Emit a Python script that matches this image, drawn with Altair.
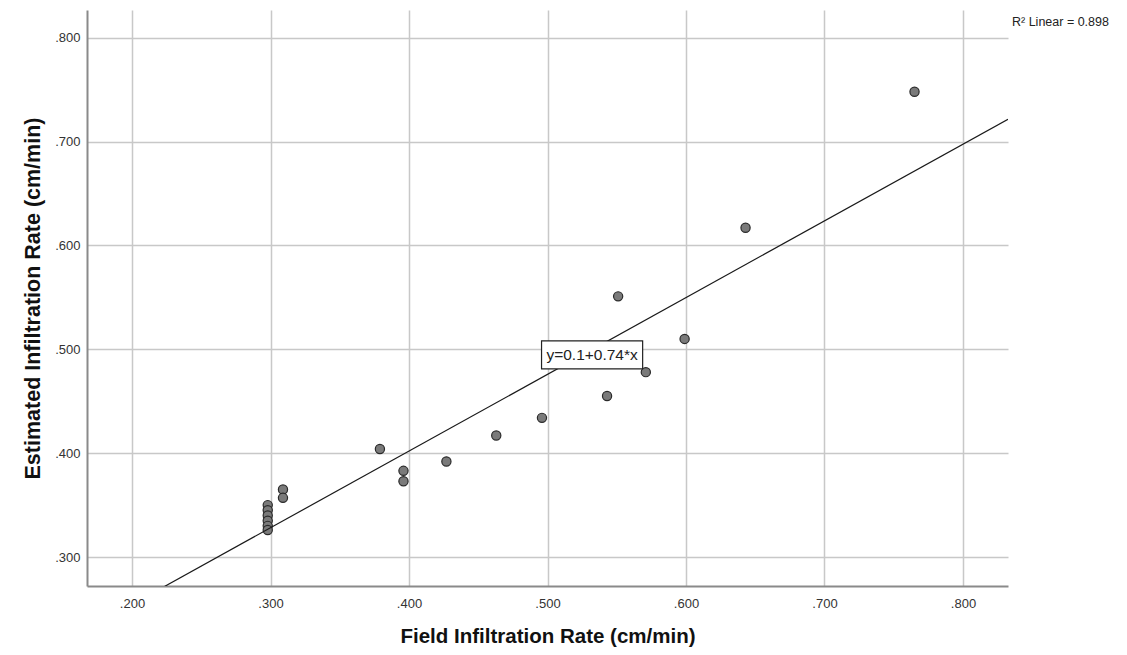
import altair as alt
import pandas as pd

field_rate = [0.765, 0.643, 0.551, 0.599, 0.571, 0.543, 0.496, 0.463, 0.427, 0.379,
              0.396, 0.396, 0.309, 0.309, 0.298, 0.298, 0.298, 0.298, 0.298, 0.298]
estimated_rate = [0.748, 0.617, 0.551, 0.510, 0.478, 0.455, 0.434, 0.417, 0.392, 0.404,
                  0.383, 0.373, 0.365, 0.357, 0.350, 0.345, 0.340, 0.335, 0.330, 0.326]

x_ticks = [0.2, 0.3, 0.4, 0.5, 0.6, 0.7, 0.8]
y_ticks = [0.3, 0.4, 0.5, 0.6, 0.7, 0.8]
x_domain = [0.1675, 0.8325]
y_domain = [0.2721, 0.8267]

equation_text = ["y=0.1+0.74*x"]
equation_box_x = [0.4957, 0.5687]
equation_box_y = [0.4811, 0.5081]
r2_text = ["R\u00b2 Linear = 0.898"]

df = pd.DataFrame({"field": field_rate, "est": estimated_rate})

xscale = alt.Scale(domain=x_domain, nice=False, zero=False)
yscale = alt.Scale(domain=y_domain, nice=False, zero=False)

lab_expr = "slice(format(datum.value, '.3f'), 1)"

x_axis = alt.Axis(values=x_ticks, labelExpr=lab_expr, title="Field Infiltration Rate (cm/min)",
                  grid=True, ticks=False, labelPadding=11, titlePadding=16, titleFontSize=20.5)
y_axis = alt.Axis(values=y_ticks, labelExpr=lab_expr, title="Estimated Infiltration Rate (cm/min)",
                  grid=True, ticks=False, labelPadding=7, titlePadding=10, titleFontSize=21.5)

base = alt.Chart(df)

points = base.mark_circle(size=85, color="#7a7a7a", stroke="#2a2a2a", strokeWidth=1.2, opacity=1).encode(
    x=alt.X("field:Q", scale=xscale, axis=x_axis),
    y=alt.Y("est:Q", scale=yscale, axis=y_axis),
)

reg = base.transform_regression("field", "est", extent=x_domain).mark_line(
    color="#1a1a1a", strokeWidth=1.2, clip=True
).encode(
    x=alt.X("field:Q", scale=xscale),
    y=alt.Y("est:Q", scale=yscale),
)

box_df = pd.DataFrame({"x1": [equation_box_x[0]], "x2": [equation_box_x[1]],
                       "y1": [equation_box_y[0]], "y2": [equation_box_y[1]],
                       "label": equation_text,
                       "xm": [(equation_box_x[0] + equation_box_x[1]) / 2],
                       "ym": [(equation_box_y[0] + equation_box_y[1]) / 2]})

box = alt.Chart(box_df).mark_rect(fill="white", stroke="#222222", strokeWidth=1.2).encode(
    x=alt.X("x1:Q", scale=xscale), x2="x2:Q",
    y=alt.Y("y1:Q", scale=yscale), y2="y2:Q",
)
box_text = alt.Chart(box_df).mark_text(font="Liberation Sans", fontSize=15.5, color="#222222",
                                        align="center", baseline="middle").encode(
    x=alt.X("xm:Q", scale=xscale), y=alt.Y("ym:Q", scale=yscale), text="label:N"
)

r2 = alt.Chart(pd.DataFrame({"t": r2_text})).mark_text(
    font="Liberation Sans", fontSize=12.5, color="#222222", align="left", baseline="middle"
).encode(x=alt.value(925), y=alt.value(12), text="t:N")

chart = alt.layer(points, reg, box, box_text, r2).properties(
    width=921, height=576,
    autosize=alt.AutoSizeParams(type="none"),
    padding={"left": 79, "top": 2, "right": 110, "bottom": 61},
).configure_view(stroke=None).configure_axis(
    labelFont="Liberation Sans", labelFontSize=13, labelColor="#333333",
    titleFont="Liberation Sans", titleFontWeight="bold", titleColor="#111111",
    gridColor="#c8c8c8", gridWidth=1.5,
    domainColor="#8a8a8a", domainWidth=2,
)

chart.save("out.html", embed_options={"renderer": "svg", "actions": False})
